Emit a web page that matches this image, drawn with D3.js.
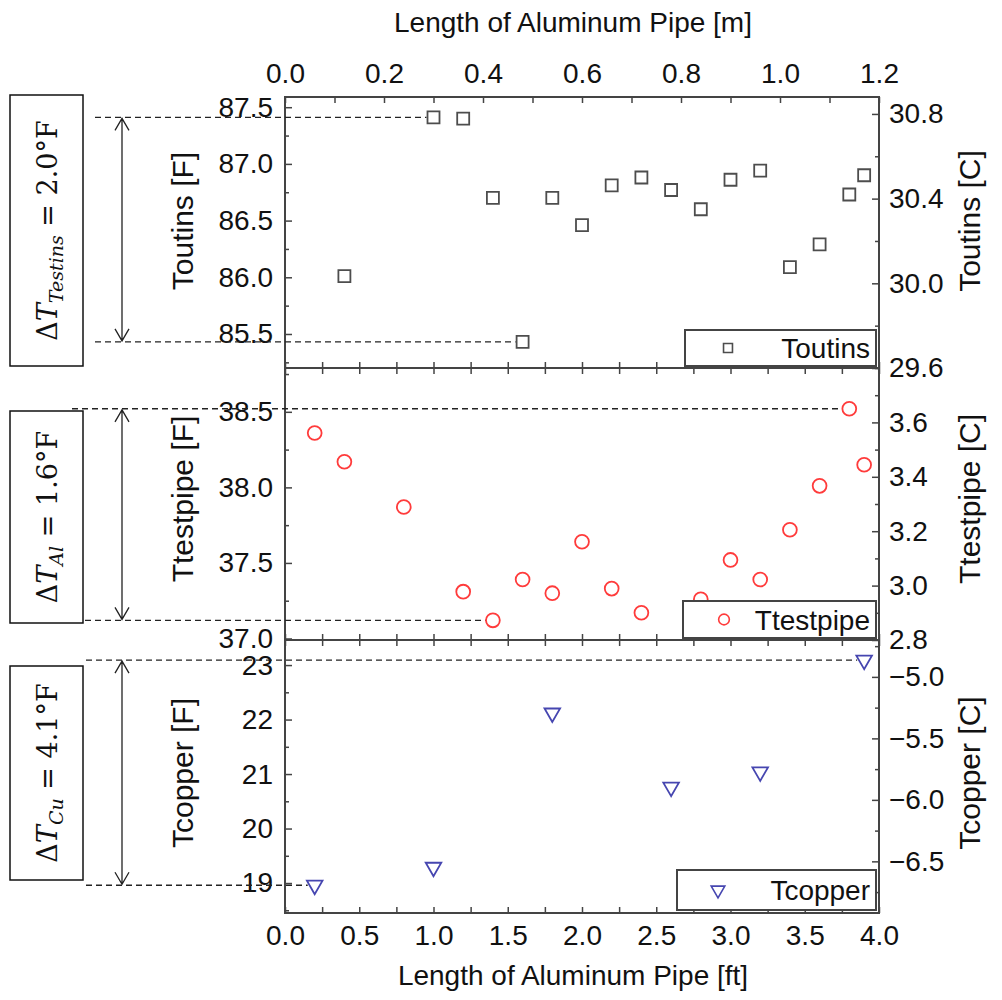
<!DOCTYPE html>
<html>
<head>
<meta charset="utf-8">
<script src="https://cdn.jsdelivr.net/npm/d3@7"></script>
<style>
body { margin: 0; background: #fff; }
svg text { font-family: "Liberation Sans", Arial, sans-serif; }
</style>
</head>
<body>
<svg id="chart"></svg>
<script>
// x ticks
var ftTicks = [0, 0.5, 1.0, 1.5, 2.0, 2.5, 3.0, 3.5, 4.0];
var mTicks = [0, 0.2, 0.4, 0.6, 0.8, 1.0, 1.2];

// Toutins (square)
var toutinsFt = [0.4, 1.0, 1.2, 1.4, 1.6, 1.8, 2.0, 2.2, 2.4, 2.6, 2.8, 3.0, 3.2, 3.4, 3.6, 3.8, 3.9];
var toutinsF = [86.01, 87.41, 87.40, 86.70, 85.43, 86.70, 86.46, 86.81, 86.88, 86.77, 86.60, 86.86, 86.94, 86.09, 86.29, 86.73, 86.90];
var toutinsTicksF = [85.5, 86.0, 86.5, 87.0, 87.5];
var toutinsTicksC = [29.6, 30.0, 30.4, 30.8];

// Ttestpipe (circle)
var ttestFt = [0.2, 0.4, 0.8, 1.2, 1.4, 1.6, 1.8, 2.0, 2.2, 2.4, 2.8, 3.0, 3.2, 3.4, 3.6, 3.8, 3.9];
var ttestF = [38.36, 38.17, 37.87, 37.31, 37.12, 37.39, 37.30, 37.64, 37.33, 37.17, 37.26, 37.52, 37.39, 37.72, 38.01, 38.52, 38.15];
var ttestTicksF = [37.0, 37.5, 38.0, 38.5];
var ttestTicksC = [2.8, 3.0, 3.2, 3.4, 3.6];

// Tcopper (triangle)
var tcopperFt = [0.2, 1.0, 1.8, 2.6, 3.2, 3.9];
var tcopperF = [18.96, 19.29, 22.12, 20.76, 21.04, 23.09];
var tcopperTicksF = [19, 20, 21, 22, 23];
var tcopperTicksC = [-6.5, -6.0, -5.5, -5.0];

var deltaSubs = ["Testins", "Al", "Cu"];
var deltaValues = ["2.0", "1.6", "4.1"];

var width = 1002;
var height = 1000;
var plotLeft = 285;
var plotRight = 879;
var frameColor = "#444";
var tickFont = 28;

var svg = d3.select("#chart")
    .attr("width", width)
    .attr("height", height);

var x = d3.scaleLinear().domain([0, 4]).range([plotLeft, plotRight]);
var xm = d3.scaleLinear().domain([0, 1.2]).range([plotLeft, plotRight]);

var panels = [
    {
        name: "Toutins", ft: toutinsFt, vals: toutinsF,
        top: 97, bottom: 368,
        domF: [85.2, 87.59], domC: [29.6, 30.88],
        ticksF: toutinsTicksF, minorF: 0.25, fmtF: ".1f",
        ticksC: toutinsTicksC, minorC: 0.2,
        symbol: d3.symbolSquare, size: 144, rot: 0, color: "#4d4d4d",
        legend: { x0: 685, y0: 330, y1: 366, mx: 728, msize: 80 },
        dash: [95, 95], box: [95, 366], titleY: 221
    },
    {
        name: "Ttestpipe", ft: ttestFt, vals: ttestF,
        top: 368, bottom: 640,
        domF: [36.99, 38.79], domC: [2.8, 3.8],
        ticksF: ttestTicksF, minorF: 0.25, fmtF: ".1f",
        ticksC: ttestTicksC, minorC: 0.1,
        symbol: d3.symbolCircle, size: 150, rot: 0, color: "#ff3b3b",
        legend: { x0: 683, y0: 601, y1: 638, mx: 724, msize: 90 },
        dash: [72, 85], box: [411, 623], titleY: 499
    },
    {
        name: "Tcopper", ft: tcopperFt, vals: tcopperF,
        top: 640, bottom: 913,
        domF: [18.45, 23.46], domC: [-6.92, -4.70],
        ticksF: tcopperTicksF, minorF: 0.5, fmtF: "d",
        ticksC: tcopperTicksC, minorC: 0.25,
        symbol: d3.symbolTriangle, size: 105, rot: 180, color: "#4646b0",
        legend: { x0: 677, y0: 870, y1: 910, mx: 718, msize: 80 },
        dash: [86, 86], box: [666, 880], titleY: 773
    }
];

function styleAxis(g) {
    g.attr("font-size", tickFont)
        .attr("font-family", null)
        .attr("color", frameColor);
    g.select(".domain").remove();
    g.selectAll(".tick line").attr("stroke-width", 1.5);
    g.selectAll("text").attr("fill", "#111");
}

function minorTicks(dom, step, major) {
    var lo = Math.ceil(dom[0] / step - 1e-6) * step;
    return d3.range(lo, dom[1] + 1e-6, step).filter(function (v) {
        return !major.some(function (m) { return Math.abs(m - v) < 1e-6; });
    });
}

panels.forEach(function (p, i) {
    var yF = d3.scaleLinear().domain(p.domF).range([p.bottom, p.top]);
    var yC = d3.scaleLinear().domain(p.domC).range([p.bottom, p.top]);

    // left axis
    var gl = svg.append("g").attr("transform", "translate(" + plotLeft + ",0)");
    gl.call(d3.axisLeft(yF).tickValues(p.ticksF).tickSizeInner(-7).tickSizeOuter(0)
        .tickPadding(12).tickFormat(d3.format(p.fmtF)));
    styleAxis(gl);
    var glm = svg.append("g").attr("transform", "translate(" + plotLeft + ",0)");
    glm.call(d3.axisLeft(yF).tickValues(minorTicks(p.domF, p.minorF, p.ticksF))
        .tickSizeInner(-4).tickSizeOuter(0).tickFormat(""));
    styleAxis(glm);

    // right axis
    var gr = svg.append("g").attr("transform", "translate(" + plotRight + ",0)");
    gr.call(d3.axisRight(yC).tickValues(p.ticksC).tickSizeInner(-7).tickSizeOuter(0)
        .tickPadding(10).tickFormat(d3.format(".1f")));
    styleAxis(gr);
    var grm = svg.append("g").attr("transform", "translate(" + plotRight + ",0)");
    grm.call(d3.axisRight(yC).tickValues(minorTicks(p.domC, p.minorC, p.ticksC))
        .tickSizeInner(-4).tickSizeOuter(0).tickFormat(""));
    styleAxis(grm);

    // top edge
    var gt = svg.append("g").attr("transform", "translate(0," + p.top + ")");
    if (i === 0) {
        gt.call(d3.axisTop(xm).tickValues(d3.range(0, 1.21, 0.1)).tickSizeInner(-6).tickSizeOuter(0)
            .tickPadding(14).tickFormat(function (d) {
                return mTicks.some(function (m) { return Math.abs(m - d) < 1e-6; }) ? d3.format(".1f")(d) : "";
            }));
    } else {
        gt.call(d3.axisTop(x).tickValues(d3.range(0, 4.01, 0.25)).tickSizeInner(-6).tickSizeOuter(0).tickFormat(""));
    }
    styleAxis(gt);

    // bottom edge
    var gb = svg.append("g").attr("transform", "translate(0," + p.bottom + ")");
    gb.call(d3.axisBottom(x).tickValues(d3.range(0, 4.01, 0.25)).tickSizeInner(-6).tickSizeOuter(0)
        .tickPadding(12).tickFormat(function (d) {
            if (i !== 2) return "";
            return ftTicks.indexOf(d) !== -1 ? d3.format(".1f")(d) : "";
        }));
    styleAxis(gb);

    // frame
    svg.append("rect")
        .attr("x", plotLeft)
        .attr("y", p.top)
        .attr("width", plotRight - plotLeft)
        .attr("height", p.bottom - p.top)
        .attr("fill", "none")
        .attr("stroke", frameColor)
        .attr("stroke-width", 2);

    // dashed max / min lines
    var iMax = d3.maxIndex(p.vals);
    var iMin = d3.minIndex(p.vals);
    [[iMax, p.dash[0]], [iMin, p.dash[1]]].forEach(function (pair) {
        svg.append("line")
            .attr("x1", pair[1])
            .attr("x2", x(p.ft[pair[0]]) - 7)
            .attr("y1", yF(p.vals[pair[0]]))
            .attr("y2", yF(p.vals[pair[0]]))
            .attr("stroke", "#222")
            .attr("stroke-width", 1.4)
            .attr("stroke-dasharray", "6,4");
    });

    // double arrow
    var ax = 122;
    var yA = yF(p.vals[iMax]) + 1;
    var yB = yF(p.vals[iMin]) - 1;
    svg.append("path")
        .attr("d", "M" + ax + "," + yA + "V" + yB +
            "M" + (ax - 7) + "," + (yA + 12) + "L" + ax + "," + yA + "L" + (ax + 7) + "," + (yA + 12) +
            "M" + (ax - 7) + "," + (yB - 12) + "L" + ax + "," + yB + "L" + (ax + 7) + "," + (yB - 12))
        .attr("fill", "none")
        .attr("stroke", "#222")
        .attr("stroke-width", 1.3);

    // delta box
    svg.append("rect")
        .attr("x", 10)
        .attr("y", p.box[0])
        .attr("width", 73)
        .attr("height", p.box[1] - p.box[0])
        .attr("fill", "#fff")
        .attr("stroke", "#111")
        .attr("stroke-width", 1.5);

    var dt = svg.append("text")
        .attr("transform", "translate(57," + ((p.box[0] + p.box[1]) / 2) + ") rotate(-90)")
        .attr("text-anchor", "middle")
        .style("font-family", "'DejaVu Serif', serif")
        .attr("font-size", 27)
        .attr("fill", "#111");
    dt.append("tspan").text("\u0394");
    dt.append("tspan").attr("font-style", "italic").text("T");
    dt.append("tspan").attr("font-style", "italic").attr("font-size", 19).attr("dy", 6).text(deltaSubs[i]);
    dt.append("tspan").attr("dy", -6).text(" = " + deltaValues[i] + "\u00B0F");

    // markers
    var sym = d3.symbol().type(p.symbol).size(p.size);
    svg.append("g").selectAll("path")
        .data(p.ft)
        .enter()
        .append("path")
        .attr("d", sym)
        .attr("transform", function (d, k) {
            return "translate(" + x(d) + "," + yF(p.vals[k]) + ") rotate(" + p.rot + ")";
        })
        .attr("fill", "none")
        .attr("stroke", p.color)
        .attr("stroke-width", 1.8);

    // legend
    var lg = p.legend;
    svg.append("rect")
        .attr("x", lg.x0)
        .attr("y", lg.y0)
        .attr("width", plotRight - 3 - lg.x0)
        .attr("height", lg.y1 - lg.y0)
        .attr("fill", "#fff")
        .attr("stroke", frameColor)
        .attr("stroke-width", 2);
    svg.append("path")
        .attr("d", d3.symbol().type(p.symbol).size(lg.msize))
        .attr("transform", "translate(" + lg.mx + "," + ((lg.y0 + lg.y1) / 2) + ") rotate(" + p.rot + ")")
        .attr("fill", "none")
        .attr("stroke", p.color)
        .attr("stroke-width", 1.6);
    svg.append("text")
        .attr("x", plotRight - 9)
        .attr("y", (lg.y0 + lg.y1) / 2 + 10)
        .attr("text-anchor", "end")
        .attr("font-size", 28)
        .attr("fill", "#111")
        .text(p.name);

    // axis titles
    svg.append("text")
        .attr("transform", "translate(193," + p.titleY + ") rotate(-90)")
        .attr("text-anchor", "middle")
        .attr("font-size", 30)
        .attr("fill", "#111")
        .text(p.name + " [F]");
    svg.append("text")
        .attr("transform", "translate(980," + p.titleY + ") rotate(-90)")
        .attr("text-anchor", "middle")
        .attr("font-size", 30)
        .attr("fill", "#111")
        .text(p.name + " [C]");
});

svg.append("text")
    .attr("x", 573)
    .attr("y", 32)
    .attr("text-anchor", "middle")
    .attr("font-size", 28)
    .attr("fill", "#111")
    .text("Length of Aluminum Pipe [m]");

svg.append("text")
    .attr("x", 573)
    .attr("y", 985)
    .attr("text-anchor", "middle")
    .attr("font-size", 28)
    .attr("fill", "#111")
    .text("Length of Aluminum Pipe [ft]");
</script>
</body>
</html>
